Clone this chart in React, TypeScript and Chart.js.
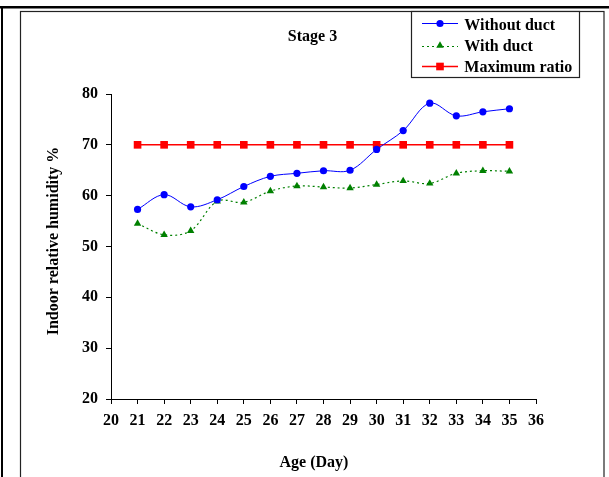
import React, { useEffect, useRef } from "react";
import { Chart, registerables } from "chart.js";

Chart.register(...registerables);

const days = [21, 22, 23, 24, 25, 26, 27, 28, 29, 30, 31, 32, 33, 34, 35];
const withoutDuct = [57.3, 60.2, 57.8, 59.2, 61.8, 63.8, 64.4, 64.9, 65.0, 69.1, 72.8, 78.2, 75.7, 76.5, 77.1];
const withDuct = [54.5, 52.3, 53.1, 58.9, 58.7, 60.9, 61.9, 61.7, 61.5, 62.2, 62.9, 62.4, 64.4, 64.9, 64.8];
const maxRatio = [70, 70, 70, 70, 70, 70, 70, 70, 70, 70, 70, 70, 70, 70, 70];
const seriesLabels = ["Without duct", "With duct", "Maximum ratio"];
const chartTitle = "Stage 3";
const xTitle = "Age (Day)";
const yTitle = "Indoor relative humidity %";
const xMin = 20, xMax = 36, xStep = 1;
const yMin = 20, yMax = 80, yStep = 10;

const FONT = "'Liberation Serif', 'Times New Roman', serif";

function drawMarker(ctx: CanvasRenderingContext2D, style: string, x: number, y: number, r: number, color: string) {
  ctx.save();
  ctx.fillStyle = color;
  ctx.beginPath();
  if (style === "circle") {
    ctx.arc(x, y, r, 0, Math.PI * 2);
  } else if (style === "triangle") {
    ctx.moveTo(x, y - r);
    ctx.lineTo(x + r * 0.866, y + r * 0.5);
    ctx.lineTo(x - r * 0.866, y + r * 0.5);
    ctx.closePath();
  } else {
    const s = r * Math.SQRT1_2;
    ctx.rect(x - s, y - s, 2 * s, 2 * s);
  }
  ctx.fill();
  ctx.restore();
}

const decorPlugin = {
  id: "decor",
  beforeDraw(chart: any) {
    const ctx: CanvasRenderingContext2D = chart.ctx;
    ctx.save();
    ctx.fillStyle = "#ffffff";
    ctx.fillRect(0, 0, chart.width, chart.height);
    ctx.fillStyle = "#000000";
    ctx.fillRect(0, 6, chart.width, 2.5);
    ctx.fillRect(1, 6, 2, chart.height);
    ctx.strokeStyle = "#222222";
    ctx.lineWidth = 1.2;
    ctx.strokeRect(20.5, 11.5, 583.5, 520);
    ctx.restore();
  },
  afterDraw(chart: any) {
    const ctx: CanvasRenderingContext2D = chart.ctx;
    ctx.save();
    ctx.fillStyle = "#000";
    ctx.font = `bold 16px ${FONT}`;
    ctx.textBaseline = "alphabetic";
    ctx.textAlign = "center";
    ctx.fillText(chartTitle, 312.5, 40.5);
    ctx.fillText(xTitle, 314, 466.5);
    ctx.save();
    ctx.translate(57.5, 241);
    ctx.rotate(-Math.PI / 2);
    ctx.fillText(yTitle, 0, 0);
    ctx.restore();

    // legend
    ctx.fillStyle = "#fff";
    ctx.fillRect(411.5, 11.5, 168, 66);
    ctx.strokeStyle = "#222";
    ctx.lineWidth = 1.2;
    ctx.strokeRect(411.5, 11.5, 168, 66);
    const rows = [23.5, 45.5, 66.5];
    const bases = [30, 50.7, 71.7];
    chart.data.datasets.forEach((ds: any, i: number) => {
      const y = rows[i];
      ctx.save();
      ctx.strokeStyle = ds.borderColor;
      ctx.lineWidth = ds.borderWidth;
      ctx.setLineDash(ds.borderDash || []);
      ctx.beginPath();
      ctx.moveTo(422, y + (i === 1 ? 1 : 0));
      ctx.lineTo(458, y + (i === 1 ? 1 : 0));
      ctx.stroke();
      ctx.restore();
      drawMarker(ctx, ds.pointStyle, 440, y, ds.pointRadius, ds.backgroundColor);
      ctx.fillStyle = "#000";
      ctx.font = `bold 16px ${FONT}`;
      ctx.textAlign = "left";
      ctx.fillText(ds.label, 464.3, bases[i]);
    });
    ctx.restore();
  },
};

export default function App() {
  const ref = useRef<HTMLCanvasElement | null>(null);
  useEffect(() => {
    if (!ref.current) return;
    const tickFont = { family: FONT, size: 16, weight: "bold" as const };
    const chart = new Chart(ref.current, {
      type: "line",
      data: {
        datasets: [
          {
            label: seriesLabels[0],
            data: days.map((d, i) => ({ x: d, y: withoutDuct[i] })),
            borderColor: "#0000ff",
            backgroundColor: "#0000ff",
            borderWidth: 1,
            pointStyle: "circle",
            pointRadius: 3.6,
            pointBorderWidth: 0,
            tension: 0.35,
          },
          {
            label: seriesLabels[1],
            data: days.map((d, i) => ({ x: d, y: withDuct[i] })),
            borderColor: "#008000",
            backgroundColor: "#008000",
            borderWidth: 1.2,
            borderDash: [2, 3],
            pointStyle: "triangle",
            pointRadius: 4.3,
            pointBorderWidth: 0,
            tension: 0.35,
          },
          {
            label: seriesLabels[2],
            data: days.map((d, i) => ({ x: d, y: maxRatio[i] })),
            borderColor: "#ff0000",
            backgroundColor: "#ff0000",
            borderWidth: 1.5,
            pointStyle: "rect",
            pointRadius: 5.4,
            pointBorderWidth: 0,
            tension: 0,
          },
        ],
      },
      options: {
        responsive: false,
        animation: false,
        layout: { padding: { left: 0, top: 94, right: 73, bottom: 0 } },
        plugins: { legend: { display: false }, title: { display: false }, tooltip: { enabled: false } },
        scales: {
          x: {
            type: "linear",
            min: xMin,
            max: xMax,
            ticks: { stepSize: xStep, font: tickFont, color: "#000", padding: 7 },
            grid: { drawOnChartArea: false, drawTicks: true, tickLength: 5, color: "#000" },
            border: { color: "#000", width: 1 },
            afterFit: (s: any) => { s.height = 78; },
          },
          y: {
            type: "linear",
            min: yMin,
            max: yMax,
            ticks: { stepSize: yStep, font: tickFont, color: "#000", padding: 8 },
            grid: { drawOnChartArea: false, drawTicks: true, tickLength: 5, color: "#000" },
            border: { color: "#000", width: 1 },
            afterFit: (s: any) => { s.width = 111; },
          },
        },
      },
      plugins: [decorPlugin],
    });
    return () => chart.destroy();
  }, []);
  return (
    <div style={{ position: "absolute", left: 0, top: 0, width: 609, height: 477 }}>
      <canvas ref={ref} width={609} height={477} />
    </div>
  );
}
